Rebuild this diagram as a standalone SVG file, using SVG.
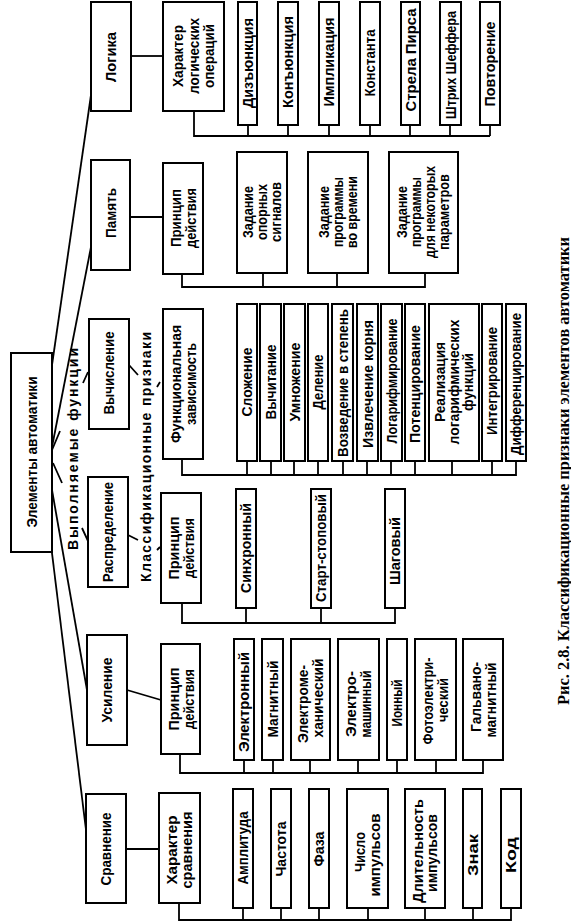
<svg xmlns="http://www.w3.org/2000/svg" width="571" height="924" viewBox="0 0 571 924">
<style>
.b{fill:#fff;stroke:#000;stroke-width:2}
.t{font-family:"Liberation Sans",Arial,sans-serif;font-weight:bold;font-size:14.5px;text-anchor:middle;dominant-baseline:central;fill:#000}
.l{stroke:#000;stroke-width:1.8;fill:none}
.lab{font-family:"Liberation Sans",Arial,sans-serif;font-weight:bold;font-size:14px;text-anchor:middle;dominant-baseline:central}
.cap{font-family:"Liberation Serif","Times New Roman",serif;font-weight:bold;font-size:17px;text-anchor:middle;dominant-baseline:central}
</style>
<rect width="571" height="924" fill="#fff"/>
<g id="connectors">
<path class="l" d="M52,365 L91,95"/>
<path class="l" d="M52,447 L91,247"/>
<path class="l" d="M52,450 L60,431 M83,383 L88,372"/>
<path class="l" d="M53,463 L62,483 M82,528 L88,541"/>
<path class="l" d="M52,490 L87,690"/>
<path class="l" d="M51,545 L86,830"/>
<path class="l" d="M131,56 H163"/>
<path class="l" d="M130,217 H163"/>
<path class="l" d="M129,365 L138,375 M157,387 L160,382"/>
<path class="l" d="M128,535 L138,540 M157,550 L160,547"/>
<path class="l" d="M127,690 L161,700"/>
<path class="l" d="M126,849 H159"/>
<path class="l" d="M194,111 V136 H490 M248,125 V136 M288,125 V136 M329,125 V136 M370,125 V136 M410,125 V136 M450,125 V136 M490,125 V136"/>
<path class="l" d="M182,274 V287 H425 V273 M263,273 V287 M337,273 V287"/>
<path class="l" d="M182,459 V475 H516 V461 M247,461 V475 M271,461 V475 M294,461 V475 M318,461 V475 M343,461 V475 M367,461 V475 M391,461 V475 M415,461 V475 M452,461 V475 M492,461 V475"/>
<path class="l" d="M182,603 V623 H395 V608 M246,608 V623 M321,608 V623"/>
<path class="l" d="M180,754 V773 H483 V760 M244,760 V773 M273,760 V773 M310,760 V773 M358,760 V773 M397,760 V773 M436,760 V773"/>
<path class="l" d="M179,903 V920 H511 V908 M243,908 V920 M281,908 V920 M319,908 V920 M368,908 V920 M425,908 V920 M473,908 V920"/>
</g>
<text class="lab" transform="translate(73,449) rotate(-90)" textLength="202" lengthAdjust="spacing">Выполняемые функции</text>
<text class="lab" transform="translate(146,457) rotate(-90)" textLength="250" lengthAdjust="spacing">Классификационные признаки</text>
<text class="cap" transform="translate(563,471) rotate(-90)" textLength="468" lengthAdjust="spacingAndGlyphs">Рис. 2.8. Классификационные признаки элементов автоматики</text>

<g id="root"><rect class="b" x="11" y="353" width="41" height="199"/><text class="t" font-size="15.5" transform="translate(32,452) rotate(-90)" textLength="151" lengthAdjust="spacingAndGlyphs">Элементы автоматики</text></g>

<g id="logika"><rect class="b" x="91" y="2" width="40" height="109"/><text class="t" transform="translate(111,57) rotate(-90)" textLength="50" lengthAdjust="spacingAndGlyphs">Логика</text></g>
<g id="pamyat"><rect class="b" x="91" y="160" width="39" height="110"/><text class="t" transform="translate(110.5,213) rotate(-90)" textLength="50" lengthAdjust="spacingAndGlyphs">Память</text></g>
<g id="vychislenie"><rect class="b" x="89" y="319" width="40" height="110"/><text class="t" transform="translate(109,373) rotate(-90)" textLength="83" lengthAdjust="spacingAndGlyphs">Вычисление</text></g>
<g id="raspredelenie"><rect class="b" x="88" y="477" width="40" height="110"/><text class="t" transform="translate(108,532) rotate(-90)" textLength="100" lengthAdjust="spacingAndGlyphs">Распределение</text></g>
<g id="usilenie"><rect class="b" x="87" y="635" width="40" height="110"/><text class="t" transform="translate(107,690) rotate(-90)" textLength="65" lengthAdjust="spacingAndGlyphs">Усиление</text></g>
<g id="sravnenie"><rect class="b" x="86" y="794" width="40" height="109"/><text class="t" transform="translate(106,849) rotate(-90)" textLength="73" lengthAdjust="spacingAndGlyphs">Сравнение</text></g>

<g id="harakter-log"><rect class="b" x="163" y="2" width="61" height="109"/>
<text class="t" transform="translate(178,56) rotate(-90)" textLength="62" lengthAdjust="spacingAndGlyphs">Характер</text>
<text class="t" transform="translate(194,56) rotate(-90)" textLength="76" lengthAdjust="spacingAndGlyphs">логических</text>
<text class="t" transform="translate(209,56) rotate(-90)" textLength="64" lengthAdjust="spacingAndGlyphs">операций</text></g>
<g id="princip-pam"><rect class="b" x="163" y="163" width="40" height="111"/>
<text class="t" transform="translate(176,218) rotate(-90)" textLength="58" lengthAdjust="spacingAndGlyphs">Принцип</text>
<text class="t" transform="translate(191,218) rotate(-90)" textLength="60" lengthAdjust="spacingAndGlyphs">действия</text></g>
<g id="funkc-zav"><rect class="b" x="163" y="309" width="40" height="150"/>
<text class="t" transform="translate(176,384) rotate(-90)" textLength="118" lengthAdjust="spacingAndGlyphs">Функциональная</text>
<text class="t" transform="translate(191,384) rotate(-90)" textLength="82" lengthAdjust="spacingAndGlyphs">зависимость</text></g>
<g id="princip-rasp"><rect class="b" x="161" y="493" width="40" height="110"/>
<text class="t" transform="translate(174,548) rotate(-90)" textLength="63" lengthAdjust="spacingAndGlyphs">Принцип</text>
<text class="t" transform="translate(189,548) rotate(-90)" textLength="60" lengthAdjust="spacingAndGlyphs">действия</text></g>
<g id="princip-usil"><rect class="b" x="161" y="644" width="39" height="110"/>
<text class="t" transform="translate(174,699) rotate(-90)" textLength="63" lengthAdjust="spacingAndGlyphs">Принцип</text>
<text class="t" transform="translate(189,699) rotate(-90)" textLength="60" lengthAdjust="spacingAndGlyphs">действия</text></g>
<g id="harakter-sr"><rect class="b" x="159" y="793" width="41" height="110"/>
<text class="t" transform="translate(172,850) rotate(-90)" textLength="69" lengthAdjust="spacingAndGlyphs">Характер</text>
<text class="t" transform="translate(187,850) rotate(-90)" textLength="77" lengthAdjust="spacingAndGlyphs">сравнения</text></g>

<g id="dizyunkciya"><rect class="b" x="238" y="2" width="19" height="123"/><text class="t" transform="translate(247.5,63) rotate(-90)" textLength="90" lengthAdjust="spacingAndGlyphs">Дизъюнкция</text></g>
<g id="konyunkciya"><rect class="b" x="278" y="2" width="20" height="123"/><text class="t" transform="translate(288,62) rotate(-90)" textLength="92" lengthAdjust="spacingAndGlyphs">Конъюнкция</text></g>
<g id="implikaciya"><rect class="b" x="319" y="2" width="20" height="123"/><text class="t" transform="translate(329,62) rotate(-90)" textLength="89" lengthAdjust="spacingAndGlyphs">Импликация</text></g>
<g id="konstanta"><rect class="b" x="360" y="2" width="20" height="123"/><text class="t" transform="translate(370,63) rotate(-90)" textLength="67" lengthAdjust="spacingAndGlyphs">Константа</text></g>
<g id="strela"><rect class="b" x="401" y="2" width="19" height="123"/><text class="t" transform="translate(410.5,60) rotate(-90)" textLength="103" lengthAdjust="spacingAndGlyphs">Стрела Пирса</text></g>
<g id="shtrih"><rect class="b" x="440" y="2" width="21" height="123"/><text class="t" font-size="12.5" transform="translate(450.5,65) rotate(-90)" textLength="108" lengthAdjust="spacingAndGlyphs">Штрих Шеффера</text></g>
<g id="povtorenie"><rect class="b" x="480" y="2" width="20" height="123"/><text class="t" transform="translate(490,64) rotate(-90)" textLength="85" lengthAdjust="spacingAndGlyphs">Повторение</text></g>

<g id="zad-opor"><rect class="b" x="237" y="152" width="50" height="121"/>
<text class="t" transform="translate(248,212) rotate(-90)" textLength="52" lengthAdjust="spacingAndGlyphs">Задание</text>
<text class="t" transform="translate(262,212) rotate(-90)" textLength="56" lengthAdjust="spacingAndGlyphs">опорных</text>
<text class="t" transform="translate(276,212) rotate(-90)" textLength="60" lengthAdjust="spacingAndGlyphs">сигналов</text></g>
<g id="zad-vrem"><rect class="b" x="308" y="152" width="60" height="121"/>
<text class="t" transform="translate(324,212) rotate(-90)" textLength="52" lengthAdjust="spacingAndGlyphs">Задание</text>
<text class="t" transform="translate(338,212) rotate(-90)" textLength="70" lengthAdjust="spacingAndGlyphs">программы</text>
<text class="t" transform="translate(352,212) rotate(-90)" textLength="72" lengthAdjust="spacingAndGlyphs">во времени</text></g>
<g id="zad-param"><rect class="b" x="389" y="152" width="69" height="121"/>
<text class="t" transform="translate(402,212) rotate(-90)" textLength="52" lengthAdjust="spacingAndGlyphs">Задание</text>
<text class="t" transform="translate(416,212) rotate(-90)" textLength="70" lengthAdjust="spacingAndGlyphs">программы</text>
<text class="t" transform="translate(430,212) rotate(-90)" textLength="92" lengthAdjust="spacingAndGlyphs">для некоторых</text>
<text class="t" transform="translate(444,212) rotate(-90)" textLength="76" lengthAdjust="spacingAndGlyphs">параметров</text></g>

<g id="slozhenie"><rect class="b" x="237" y="304" width="20" height="157"/><text class="t" transform="translate(247,382) rotate(-90)" textLength="69" lengthAdjust="spacingAndGlyphs">Сложение</text></g>
<g id="vychitanie"><rect class="b" x="260" y="304" width="21" height="157"/><text class="t" transform="translate(270.5,382) rotate(-90)" textLength="75" lengthAdjust="spacingAndGlyphs">Вычитание</text></g>
<g id="umnozhenie"><rect class="b" x="284" y="304" width="21" height="157"/><text class="t" transform="translate(294.5,382) rotate(-90)" textLength="79" lengthAdjust="spacingAndGlyphs">Умножение</text></g>
<g id="delenie"><rect class="b" x="308" y="304" width="20" height="157"/><text class="t" transform="translate(318,382) rotate(-90)" textLength="55" lengthAdjust="spacingAndGlyphs">Деление</text></g>
<g id="vozvedenie"><rect class="b" x="332" y="304" width="21" height="157"/><text class="t" transform="translate(342.5,383) rotate(-90)" textLength="148" lengthAdjust="spacingAndGlyphs">Возведение в степень</text></g>
<g id="izvlechenie"><rect class="b" x="357" y="304" width="21" height="157"/><text class="t" transform="translate(367.5,384) rotate(-90)" textLength="128" lengthAdjust="spacingAndGlyphs">Извлечение корня</text></g>
<g id="logarifm"><rect class="b" x="381" y="304" width="21" height="157"/><text class="t" transform="translate(391.5,381) rotate(-90)" textLength="125" lengthAdjust="spacingAndGlyphs">Логарифмирование</text></g>
<g id="potenc"><rect class="b" x="405" y="304" width="20" height="157"/><text class="t" transform="translate(415,384) rotate(-90)" textLength="118" lengthAdjust="spacingAndGlyphs">Потенцирование</text></g>
<g id="realiz"><rect class="b" x="429" y="304" width="50" height="157"/>
<text class="t" transform="translate(440,382) rotate(-90)" textLength="80" lengthAdjust="spacingAndGlyphs">Реализация</text>
<text class="t" transform="translate(454,382) rotate(-90)" textLength="125" lengthAdjust="spacingAndGlyphs">логарифмических</text>
<text class="t" transform="translate(468,382) rotate(-90)" textLength="58" lengthAdjust="spacingAndGlyphs">функций</text></g>
<g id="integr"><rect class="b" x="482" y="304" width="20" height="157"/><text class="t" transform="translate(492,381) rotate(-90)" textLength="108" lengthAdjust="spacingAndGlyphs">Интегрирование</text></g>
<g id="differ"><rect class="b" x="506" y="304" width="20" height="157"/><text class="t" transform="translate(516,384) rotate(-90)" textLength="142" lengthAdjust="spacingAndGlyphs">Дифференцирование</text></g>

<g id="sinhr"><rect class="b" x="236" y="489" width="20" height="119"/><text class="t" transform="translate(246,548) rotate(-90)" textLength="90" lengthAdjust="spacingAndGlyphs">Синхронный</text></g>
<g id="start"><rect class="b" x="311" y="489" width="20" height="119"/><text class="t" transform="translate(321,548) rotate(-90)" textLength="108" lengthAdjust="spacingAndGlyphs">Старт-стоповый</text></g>
<g id="shag"><rect class="b" x="385" y="489" width="20" height="119"/><text class="t" transform="translate(395,551) rotate(-90)" textLength="68" lengthAdjust="spacingAndGlyphs">Шаговый</text></g>

<g id="elektron"><rect class="b" x="234" y="639" width="20" height="121"/><text class="t" transform="translate(244,702) rotate(-90)" textLength="100" lengthAdjust="spacingAndGlyphs">Электронный</text></g>
<g id="magnit"><rect class="b" x="262" y="639" width="21" height="121"/><text class="t" transform="translate(272.5,699) rotate(-90)" textLength="77" lengthAdjust="spacingAndGlyphs">Магнитный</text></g>
<g id="elmeh"><rect class="b" x="291" y="639" width="39" height="121"/>
<text class="t" transform="translate(303,704) rotate(-90)" textLength="78" lengthAdjust="spacingAndGlyphs">Электроме-</text>
<text class="t" transform="translate(318,698) rotate(-90)" textLength="79" lengthAdjust="spacingAndGlyphs">ханический</text></g>
<g id="elmash"><rect class="b" x="338" y="639" width="41" height="121"/>
<text class="t" transform="translate(351,704) rotate(-90)" textLength="66" lengthAdjust="spacingAndGlyphs">Электро-</text>
<text class="t" transform="translate(366,704) rotate(-90)" textLength="67" lengthAdjust="spacingAndGlyphs">машинный</text></g>
<g id="ion"><rect class="b" x="387" y="639" width="20" height="121"/><text class="t" transform="translate(397,703) rotate(-90)" textLength="47" lengthAdjust="spacingAndGlyphs">Ионный</text></g>
<g id="foto"><rect class="b" x="415" y="639" width="41" height="121"/>
<text class="t" transform="translate(428,701) rotate(-90)" textLength="87" lengthAdjust="spacingAndGlyphs">Фотоэлектри-</text>
<text class="t" transform="translate(443,700) rotate(-90)" textLength="44" lengthAdjust="spacingAndGlyphs">ческий</text></g>
<g id="galv"><rect class="b" x="463" y="639" width="40" height="121"/>
<text class="t" transform="translate(476,697) rotate(-90)" textLength="70" lengthAdjust="spacingAndGlyphs">Гальвано-</text>
<text class="t" transform="translate(491,700) rotate(-90)" textLength="75" lengthAdjust="spacingAndGlyphs">магнитный</text></g>

<g id="ampl"><rect class="b" x="233" y="789" width="20" height="119"/><text class="t" transform="translate(243,848) rotate(-90)" textLength="73" lengthAdjust="spacingAndGlyphs">Амплитуда</text></g>
<g id="chast"><rect class="b" x="271" y="789" width="20" height="119"/><text class="t" transform="translate(281,849) rotate(-90)" textLength="55" lengthAdjust="spacingAndGlyphs">Частота</text></g>
<g id="faza"><rect class="b" x="309" y="789" width="20" height="119"/><text class="t" transform="translate(319,849) rotate(-90)" textLength="35" lengthAdjust="spacingAndGlyphs">Фаза</text></g>
<g id="chislo"><rect class="b" x="347" y="789" width="41" height="119"/>
<text class="t" transform="translate(360,852) rotate(-90)" textLength="40" lengthAdjust="spacingAndGlyphs">Число</text>
<text class="t" transform="translate(375,855) rotate(-90)" textLength="83" lengthAdjust="spacingAndGlyphs">импульсов</text></g>
<g id="dlit"><rect class="b" x="405" y="789" width="40" height="119"/>
<text class="t" transform="translate(418,851) rotate(-90)" textLength="104" lengthAdjust="spacingAndGlyphs">Длительность</text>
<text class="t" transform="translate(432,853) rotate(-90)" textLength="78" lengthAdjust="spacingAndGlyphs">импульсов</text></g>
<g id="znak"><rect class="b" x="463" y="789" width="19" height="119"/><text class="t" transform="translate(472.5,855) rotate(-90)" textLength="42" lengthAdjust="spacingAndGlyphs">Знак</text></g>
<g id="kod"><rect class="b" x="501" y="789" width="20" height="119"/><text class="t" transform="translate(511,855) rotate(-90)" textLength="36" lengthAdjust="spacingAndGlyphs">Код</text></g>
</svg>
